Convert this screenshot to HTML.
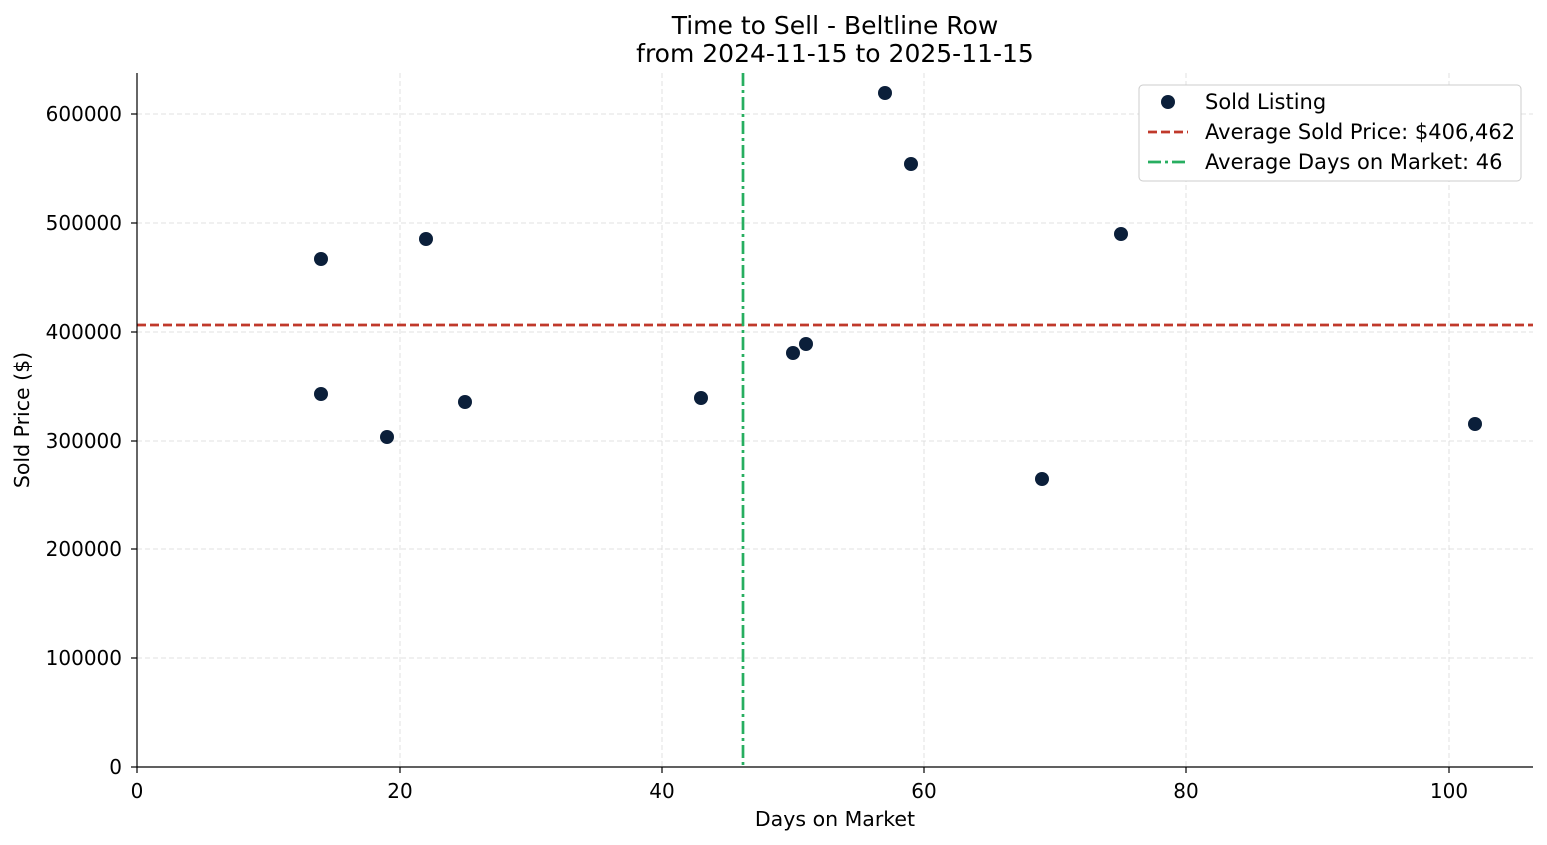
<!DOCTYPE html>
<html><head><meta charset="utf-8"><style>body{margin:0;background:#fff}svg{display:block}text{font-family:"DejaVu Sans","Liberation Sans",sans-serif;fill:#000}</style></head><body>
<svg width="1547" height="845" viewBox="0 0 1547 845" xmlns="http://www.w3.org/2000/svg">
<g stroke="#d9d9d9" stroke-width="0.8" stroke-dasharray="5,3">
<line x1="400" y1="73" x2="400" y2="767"/><line x1="662" y1="73" x2="662" y2="767"/><line x1="924" y1="73" x2="924" y2="767"/><line x1="1186" y1="73" x2="1186" y2="767"/><line x1="1449" y1="73" x2="1449" y2="767"/>
<line x1="137" y1="658" x2="1533" y2="658"/><line x1="137" y1="549" x2="1533" y2="549"/><line x1="137" y1="441" x2="1533" y2="441"/><line x1="137" y1="332" x2="1533" y2="332"/><line x1="137" y1="223" x2="1533" y2="223"/><line x1="137" y1="114" x2="1533" y2="114"/>
</g>
<line x1="137" y1="325" x2="1533" y2="325" stroke="#c0392b" stroke-width="2.7" stroke-dasharray="9,4"/>
<line x1="743" y1="73" x2="743" y2="767" stroke="#27ae60" stroke-width="2.7" stroke-dasharray="13,4,3,4"/>
<g fill="#0b1f3a">
<circle cx="321" cy="259" r="7"/><circle cx="321" cy="394" r="7"/><circle cx="387" cy="437" r="7"/><circle cx="426" cy="239" r="7"/><circle cx="465" cy="402" r="7"/><circle cx="701" cy="398" r="7"/><circle cx="793" cy="353" r="7"/><circle cx="806" cy="344" r="7"/><circle cx="885" cy="93" r="7"/><circle cx="911" cy="164" r="7"/><circle cx="1042" cy="479" r="7"/><circle cx="1121" cy="234" r="7"/><circle cx="1475" cy="424" r="7"/>
</g>
<g stroke="#000" stroke-width="1.2"><line x1="137" y1="73" x2="137" y2="767"/><line x1="137" y1="767" x2="1533" y2="767"/>
<line x1="137" y1="767" x2="137" y2="773"/><line x1="400" y1="767" x2="400" y2="773"/><line x1="662" y1="767" x2="662" y2="773"/><line x1="924" y1="767" x2="924" y2="773"/><line x1="1186" y1="767" x2="1186" y2="773"/><line x1="1449" y1="767" x2="1449" y2="773"/>
<line x1="131" y1="767" x2="137" y2="767"/><line x1="131" y1="658" x2="137" y2="658"/><line x1="131" y1="549" x2="137" y2="549"/><line x1="131" y1="441" x2="137" y2="441"/><line x1="131" y1="332" x2="137" y2="332"/><line x1="131" y1="223" x2="137" y2="223"/><line x1="131" y1="114" x2="137" y2="114"/></g>
<g font-size="20" text-anchor="middle"><text x="137" y="798">0</text><text x="400" y="798">20</text><text x="662" y="798">40</text><text x="924" y="798">60</text><text x="1186" y="798">80</text><text x="1449" y="798">100</text></g>
<g font-size="20" text-anchor="end"><text x="122" y="774">0</text><text x="122" y="665">100000</text><text x="122" y="556">200000</text><text x="122" y="448">300000</text><text x="122" y="339">400000</text><text x="122" y="230">500000</text><text x="122" y="121">600000</text></g>
<text x="835" y="826" font-size="20.5" text-anchor="middle">Days on Market</text>
<text transform="translate(29,420) rotate(-90)" font-size="20.5" text-anchor="middle">Sold Price ($)</text>
<text x="835" y="34" font-size="25" text-anchor="middle">Time to Sell - Beltline Row</text>
<text x="835" y="62" font-size="25" text-anchor="middle">from 2024-11-15 to 2025-11-15</text>
<rect x="1139" y="85" width="382" height="96" rx="4" fill="#fff" stroke="#ccc"/>
<circle cx="1168" cy="102" r="7" fill="#0b1f3a"/>
<line x1="1148" y1="132" x2="1188" y2="132" stroke="#c0392b" stroke-width="2.7" stroke-dasharray="9,4"/>
<line x1="1148" y1="162" x2="1188" y2="162" stroke="#27ae60" stroke-width="2.7" stroke-dasharray="13,4,3,4"/>
<g font-size="21"><text x="1205" y="109">Sold Listing</text><text x="1205" y="139">Average Sold Price: $406,462</text><text x="1205" y="169">Average Days on Market: 46</text></g>
</svg>
</body></html>
